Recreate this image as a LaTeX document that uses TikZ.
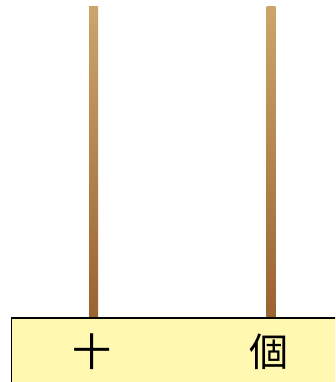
\documentclass[tikz,border=0pt]{standalone}
\usepackage{fontspec}
\newfontfamily\cjk{Noto Sans CJK TC}
\usetikzlibrary{positioning}
\definecolor{rodtop}{HTML}{CBA56B}
\definecolor{rodbot}{HTML}{9A6332}
\definecolor{basefill}{HTML}{FFF8B0}
\tikzset{rod/.style={top color=rodtop, bottom color=rodbot, draw=none}}
\tikzset{base/.style={draw=black, line width=1.2pt, fill=basefill}}
\tikzset{digit/.style={font=\cjk\fontsize{39}{39}\selectfont, inner sep=0pt}}

\begin{document}
\begin{tikzpicture}[x=1pt, y=1pt]
    \useasboundingbox (0, 0) rectangle (335, 382);
    \clip (0, 0) rectangle (335, 382);
    % rods
    \foreach \id/\xx in {1/93.5, 2/271}
    {
        \shade [rod] (\xx-4.5, 64) rectangle (\xx+4.5, 375);
    }
    % base of the abacus
    \draw [base] (11.5, -5) rectangle (340, 64);
    \node [digit](ten) at (92, 30) {十};
    \node [digit](one) at (269, 30) {個};
\end{tikzpicture}
\end{document}
